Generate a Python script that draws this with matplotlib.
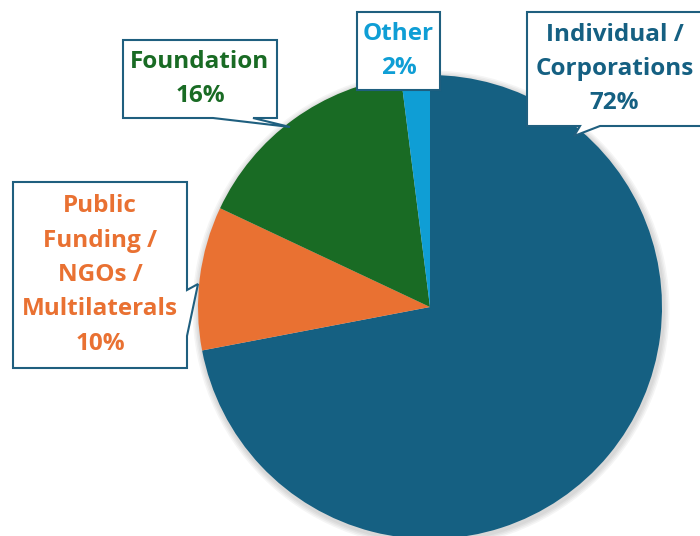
import matplotlib.pyplot as plt
from matplotlib.patches import Polygon, Circle

labels = ['Individual /\nCorporations', 'Public\nFunding /\nNGOs /\nMultilaterals', 'Foundation', 'Other']
shares = [72, 10, 16, 2]
colors = ['#156082', '#E97132', '#196B24', '#0F9ED5']
border = '#1F5F7F'

fig = plt.figure(figsize=(7, 5.36), dpi=100)
ax = fig.add_axes([0, 0, 1, 1])

cx, cy, r = 430, 307, 232

# soft shadow behind the pie
for i in range(4):
    ax.add_patch(Circle((cx + 1, cy + 2), r + 2 + i * 1.5, color='black', alpha=0.04, lw=0, zorder=1))

# y axis is flipped below, so counterclockwise from -90 reads clockwise from the top
ax.pie(shares, colors=colors, startangle=-90, counterclock=True,
       center=(cx, cy), radius=r, frame=True,
       wedgeprops=dict(linewidth=0, zorder=2))
ax.set_xlim(0, 700)
ax.set_ylim(536, 0)
ax.set_aspect('equal')
ax.axis('off')


def callout(x0, y0, x1, y1, side=None, a=None, b=None, tip=None):
    # rectangle outline with an optional pointer
    pts = [(x0, y0), (x1, y0)]
    if side == 'right':
        pts += [(x1, a), tip, (x1, b)]
    pts += [(x1, y1)]
    if side == 'bottom':
        pts += [(b, y1), tip, (a, y1)]
    pts += [(x0, y1)]
    ax.add_patch(Polygon(pts, closed=True, facecolor='white', edgecolor=border,
                         lw=1.5, zorder=5, joinstyle='miter'))


boxes = [
    (527, 12, 702, 126, 'bottom', 580, 600, (574, 136)),
    (13, 182, 187, 368, 'right', 290, 336, (198, 284)),
    (123, 40, 277, 118, 'bottom', 213, 253, (290, 127)),
    (357, 12, 440, 90, None, None, None, None),
]

for (x0, y0, x1, y1, side, a, b, tip), lab, val, col in zip(boxes, labels, shares, colors):
    callout(x0, y0, x1, y1, side, a, b, tip)
    ax.text((x0 + x1) / 2, (y0 + y1) / 2, f'{lab}\n{val}%', ha='center', va='center',
            color=col, fontsize=17.5, fontweight='bold', family='Open Sans',
            linespacing=1.58, zorder=6)

fig.savefig('out.png', dpi=100)
